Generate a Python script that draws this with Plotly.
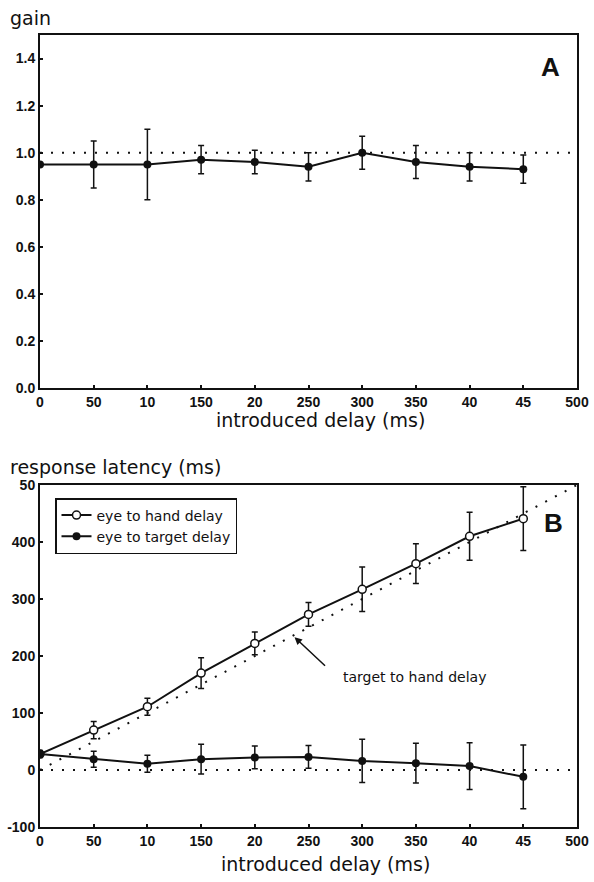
import plotly.graph_objects as go

# ---- data ----
delays = [0, 50, 100, 150, 200, 250, 300, 350, 400, 450]
x_tick_vals = [0, 50, 100, 150, 200, 250, 300, 350, 400, 450, 500]
x_tick_text = ["0", "50", "10", "150", "20", "250", "300", "350", "40", "45", "500"]

gain = [0.95, 0.95, 0.95, 0.97, 0.96, 0.94, 1.00, 0.96, 0.94, 0.93]
gain_err = [0.0, 0.10, 0.15, 0.06, 0.05, 0.06, 0.07, 0.07, 0.06, 0.06]
gain_ticks = [0.0, 0.2, 0.4, 0.6, 0.8, 1.0, 1.2, 1.4]
gain_tick_text = ["0.0", "0.2", "0.4", "0.6", "0.8", "1.0", "1.2", "1.4"]

eye_hand = [28, 70, 111, 170, 222, 273, 317, 362, 410, 441]
eye_hand_err = [0, 15, 15, 27, 20, 21, 39, 35, 42, 56]
eye_target = [28, 19, 11, 19, 22, 23, 16, 12, 7, -12]
eye_target_err = [6, 14, 15, 26, 20, 20, 38, 35, 41, 56]
lat_ticks = [-100, 0, 100, 200, 300, 400, 500]
lat_tick_text = ["-100", "0", "100", "200", "300", "400", "50"]

gain_ref_x = [0, 500]
gain_ref_y = [1.0, 1.0]
zero_ref_x = [0, 500]
zero_ref_y = [0, 0]
target_hand_x = [0, 500]
target_hand_y = [0, 500]

# ---- layout geometry ----
W, H = 594, 882
ML, MR, MT, MB = 40, 17, 35, 55
PW = W - ML - MR
PH = H - MT - MB

def py(pix):  # pixel y -> paper y
    return 1 - (pix - MT) / PH

def px(pix):
    return (pix - ML) / PW

FONT = "Liberation Sans, Arial, sans-serif"
TFONT = "DejaVu Sans, Verdana, sans-serif"
BLACK = "#111111"

fig = go.Figure()

# Panel A
fig.add_trace(go.Scatter(x=gain_ref_x, y=gain_ref_y, mode="lines",
                         line=dict(color=BLACK, width=2, dash="2px,9px"),
                         showlegend=False, hoverinfo="skip", xaxis="x", yaxis="y"))
fig.add_trace(go.Scatter(x=delays, y=gain, mode="lines+markers",
                         line=dict(color=BLACK, width=2),
                         marker=dict(symbol="circle", size=8, color=BLACK),
                         error_y=dict(type="data", array=gain_err, color=BLACK, thickness=1.5, width=3),
                         showlegend=False, xaxis="x", yaxis="y"))

# Panel B
fig.add_trace(go.Scatter(x=zero_ref_x, y=zero_ref_y, mode="lines",
                         line=dict(color=BLACK, width=2, dash="2px,9px"),
                         showlegend=False, hoverinfo="skip", xaxis="x2", yaxis="y2"))
fig.add_trace(go.Scatter(x=target_hand_x, y=target_hand_y, mode="lines",
                         line=dict(color=BLACK, width=2, dash="2px,9px"),
                         showlegend=False, hoverinfo="skip", xaxis="x2", yaxis="y2"))
fig.add_trace(go.Scatter(x=delays, y=eye_hand, mode="lines+markers", name="eye to hand delay",
                         line=dict(color=BLACK, width=2),
                         marker=dict(symbol="circle", size=8, color="white",
                                     line=dict(color=BLACK, width=1.5)),
                         error_y=dict(type="data", array=eye_hand_err, color=BLACK, thickness=1.5, width=3),
                         xaxis="x2", yaxis="y2"))
fig.add_trace(go.Scatter(x=delays, y=eye_target, mode="lines+markers", name="eye to target delay",
                         line=dict(color=BLACK, width=2),
                         marker=dict(symbol="circle", size=8, color=BLACK),
                         error_y=dict(type="data", array=eye_target_err, color=BLACK, thickness=1.5, width=3),
                         xaxis="x2", yaxis="y2"))

axis_common = dict(showline=True, linecolor=BLACK, linewidth=2, mirror=True,
                   showgrid=False, zeroline=False, ticks="inside", ticklen=3,
                   tickcolor=BLACK, tickwidth=1.5, automargin=False,
                   tickfont=dict(family=FONT, size=14, color=BLACK, weight="bold"))

domA = [py(388), 1.0]
domB = [0.0, py(485)]

fig.update_layout(
    width=W, height=H,
    margin=dict(l=ML, r=MR, t=MT, b=MB, autoexpand=False),
    paper_bgcolor="white", plot_bgcolor="white",
    font=dict(family=FONT, color=BLACK),
    xaxis=dict(domain=[0, 1], anchor="y", range=[0, 500], tickvals=x_tick_vals,
               ticktext=x_tick_text, **axis_common),
    yaxis=dict(domain=domA, anchor="x", range=[0, 1.5], tickvals=gain_ticks,
               ticktext=gain_tick_text, **axis_common),
    xaxis2=dict(domain=[0, 1], anchor="y2", range=[0, 500], tickvals=x_tick_vals,
                ticktext=x_tick_text, **axis_common),
    yaxis2=dict(domain=domB, anchor="x2", range=[-100, 500], tickvals=lat_ticks,
                ticktext=lat_tick_text, **axis_common),
    legend=dict(x=px(55), y=py(498), xanchor="left", yanchor="top",
                bgcolor="white", bordercolor=BLACK, borderwidth=1.5,
                font=dict(family=TFONT, size=14, color=BLACK),
                tracegroupgap=0, itemwidth=30),
    showlegend=True,
)

ann = []
ann.append(dict(text="gain", x=px(8), y=py(18), xref="paper", yref="paper",
                xanchor="left", yanchor="middle", showarrow=False,
                font=dict(family=TFONT, size=19, color=BLACK)))
ann.append(dict(text="response latency (ms)", x=px(8), y=py(467), xref="paper", yref="paper",
                xanchor="left", yanchor="middle", showarrow=False,
                font=dict(family=TFONT, size=19, color=BLACK)))
ann.append(dict(text="introduced delay (ms)", x=px(320), y=py(420), xref="paper", yref="paper",
                xanchor="center", yanchor="middle", showarrow=False,
                font=dict(family=TFONT, size=19, color=BLACK)))
ann.append(dict(text="introduced delay (ms)", x=px(325), y=py(864), xref="paper", yref="paper",
                xanchor="center", yanchor="middle", showarrow=False,
                font=dict(family=TFONT, size=19, color=BLACK)))
ann.append(dict(text="<b>A</b>", x=px(550), y=py(67), xref="paper", yref="paper",
                xanchor="center", yanchor="middle", showarrow=False,
                font=dict(family=FONT, size=26, color=BLACK)))
ann.append(dict(text="<b>B</b>", x=px(553), y=py(523), xref="paper", yref="paper",
                xanchor="center", yanchor="middle", showarrow=False,
                font=dict(family=FONT, size=26, color=BLACK)))
ann.append(dict(text="target to hand delay", x=349, y=164, xref="x2", yref="y2",
                xanchor="center", yanchor="middle", showarrow=False,
                font=dict(family=TFONT, size=14, color=BLACK)))
ann.append(dict(text="", x=237, y=233, xref="x2", yref="y2", showarrow=True,
                ax=32, ay=30, arrowhead=2, arrowsize=1, arrowwidth=1.5,
                arrowcolor=BLACK, standoff=0))
fig.update_layout(annotations=ann)

fig.write_html("out.html",
               config={"displayModeBar": False},
               post_script="document.body.style.margin='0';document.body.style.padding='0';"
                           "document.documentElement.style.overflow='hidden';")
